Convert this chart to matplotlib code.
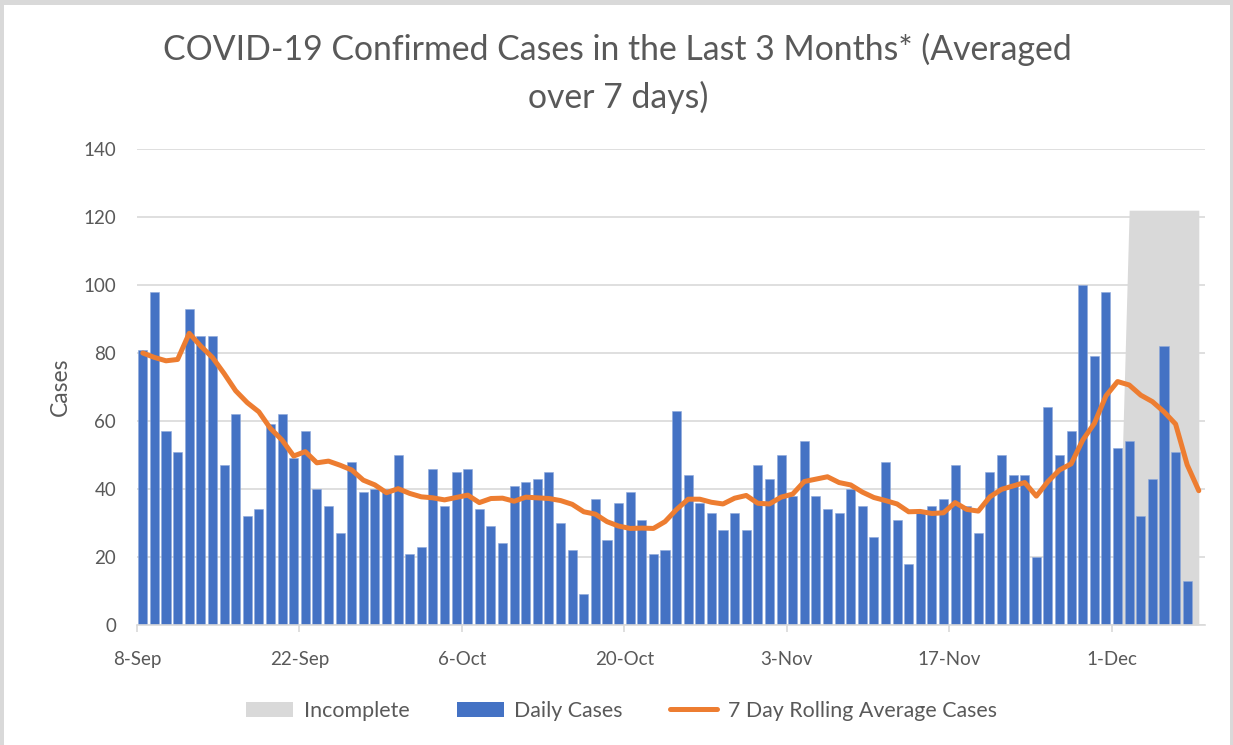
import matplotlib.pyplot as plt
from matplotlib.patches import Patch, Rectangle
from matplotlib.lines import Line2D
import numpy as np

plt.rcParams['font.family'] = ['Lato', 'DejaVu Sans']

# daily cases, 8-Sep to 7-Dec (8-Dec has no bar yet)
daily_cases = [81, 98, 57, 51, 93, 85, 85, 47, 62, 32, 34, 59, 62, 49,
               57, 40, 35, 27, 48, 39, 40, 40, 50, 21, 23, 46, 35, 45,
               46, 34, 29, 24, 41, 42, 43, 45, 30, 22, 9, 37, 25, 36,
               39, 31, 21, 22, 63, 44, 36, 33, 28, 33, 28, 47, 43, 50,
               38, 54, 38, 34, 33, 40, 35, 26, 48, 31, 18, 33, 35, 37,
               47, 35, 27, 45, 50, 44, 44, 20, 64, 50, 57, 100, 79, 98,
               52, 54, 32, 43, 82, 51, 13]

# 7 day rolling average, 8-Sep to 8-Dec
rolling_avg = [80.0, 78.7, 77.7, 78.1, 85.8, 82.0, 78.7, 74.0, 68.9, 65.4,
               62.7, 57.8, 54.4, 49.7, 51.0, 47.7, 48.2, 47.0, 45.6, 42.6,
               41.2, 38.9, 40.1, 38.7, 37.7, 37.4, 36.8, 37.5, 38.2, 36.0,
               37.2, 37.3, 36.4, 37.6, 37.4, 37.2, 36.6, 35.5, 33.3, 32.6,
               30.4, 29.1, 28.4, 28.5, 28.4, 30.4, 34.0, 37.0, 37.0, 36.1,
               35.6, 37.3, 38.1, 35.8, 35.6, 37.6, 38.5, 42.2, 42.9, 43.6,
               41.9, 41.2, 39.1, 37.5, 36.6, 35.6, 33.3, 33.4, 32.8, 33.0,
               36.0, 34.0, 33.5, 37.7, 39.9, 40.9, 41.9, 37.9, 42.2, 45.6,
               47.4, 54.4, 59.3, 67.4, 71.6, 70.6, 67.6, 65.7, 62.7, 59.1,
               47.1, 39.5]

# incomplete band: 0 until 1-Dec, then 122 for the last days
incomplete = [0] * 85 + [122] * 7

tick_labels = ['8-Sep', '22-Sep', '6-Oct', '20-Oct', '3-Nov', '17-Nov', '1-Dec']
tick_every = 14

text_col = '#595959'
grid_col = '#D9D9D9'
blue = '#4472C4'
orange = '#ED7D31'
grey = '#D9D9D9'

fig = plt.figure(figsize=(12.33, 7.45), dpi=100)
fig.patch.set_facecolor(grey)
# white chart area inside the grey frame
fig.patches.append(Rectangle((4 / 1233, 0), 1226 / 1233, 740 / 745,
                             transform=fig.transFigure, facecolor='white',
                             edgecolor='none', zorder=-10))

ax = fig.add_axes([137 / 1233, 120 / 745, 1067.6 / 1233, 476 / 745])
ax.set_facecolor('none')

n = len(rolling_avg)
x = np.arange(n)

ax.fill_between(x, incomplete, 0, color=grey, linewidth=0, zorder=1)
ax.bar(np.arange(len(daily_cases)), daily_cases, width=0.78, color=blue,
       edgecolor='#8EA9DB', linewidth=0.4, zorder=2)
ax.plot(x, rolling_avg, color=orange, linewidth=3.6, solid_joinstyle='round',
        solid_capstyle='round', zorder=3)

ax.set_xlim(-0.5, n - 0.5)
ax.set_ylim(0, 140)
ax.set_yticks(range(0, 141, 20))
ax.grid(axis='y', color=grid_col, linewidth=1.2, zorder=0)
ax.set_axisbelow(True)

ax.set_xticks([i * tick_every - 0.5 for i in range(len(tick_labels))])
ax.set_xticklabels(tick_labels)

for s in ['top', 'right', 'left']:
    ax.spines[s].set_visible(False)
ax.spines['bottom'].set_color(grid_col)
ax.spines['bottom'].set_linewidth(1.2)
ax.tick_params(axis='x', colors=text_col, labelsize=13.5, length=5,
               width=1.2, color=grid_col, pad=14)
ax.tick_params(axis='y', colors=text_col, labelsize=13.5, length=0, pad=15)

ax.set_ylabel('Cases', fontsize=16.5, color=text_col, labelpad=9)

fig.text(0.501, 0.902, 'COVID-19 Confirmed Cases in the Last 3 Months* (Averaged\nover 7 days)',
         ha='center', va='center', fontsize=24.3, color=text_col, linespacing=1.55)

handles = [Patch(facecolor=grey, edgecolor='none'),
           Patch(facecolor=blue, edgecolor='none'),
           Line2D([0], [0], color=orange, linewidth=3.6, solid_capstyle='round')]
fig.legend(handles, ['Incomplete', 'Daily Cases', '7 Day Rolling Average Cases'],
           loc='center', bbox_to_anchor=(0.504, 0.046), ncol=3, frameon=False,
           fontsize=15.4, labelcolor=text_col, handlelength=2.2,
           handletextpad=0.5, columnspacing=2.2)

fig.savefig('out.png', dpi=100)
